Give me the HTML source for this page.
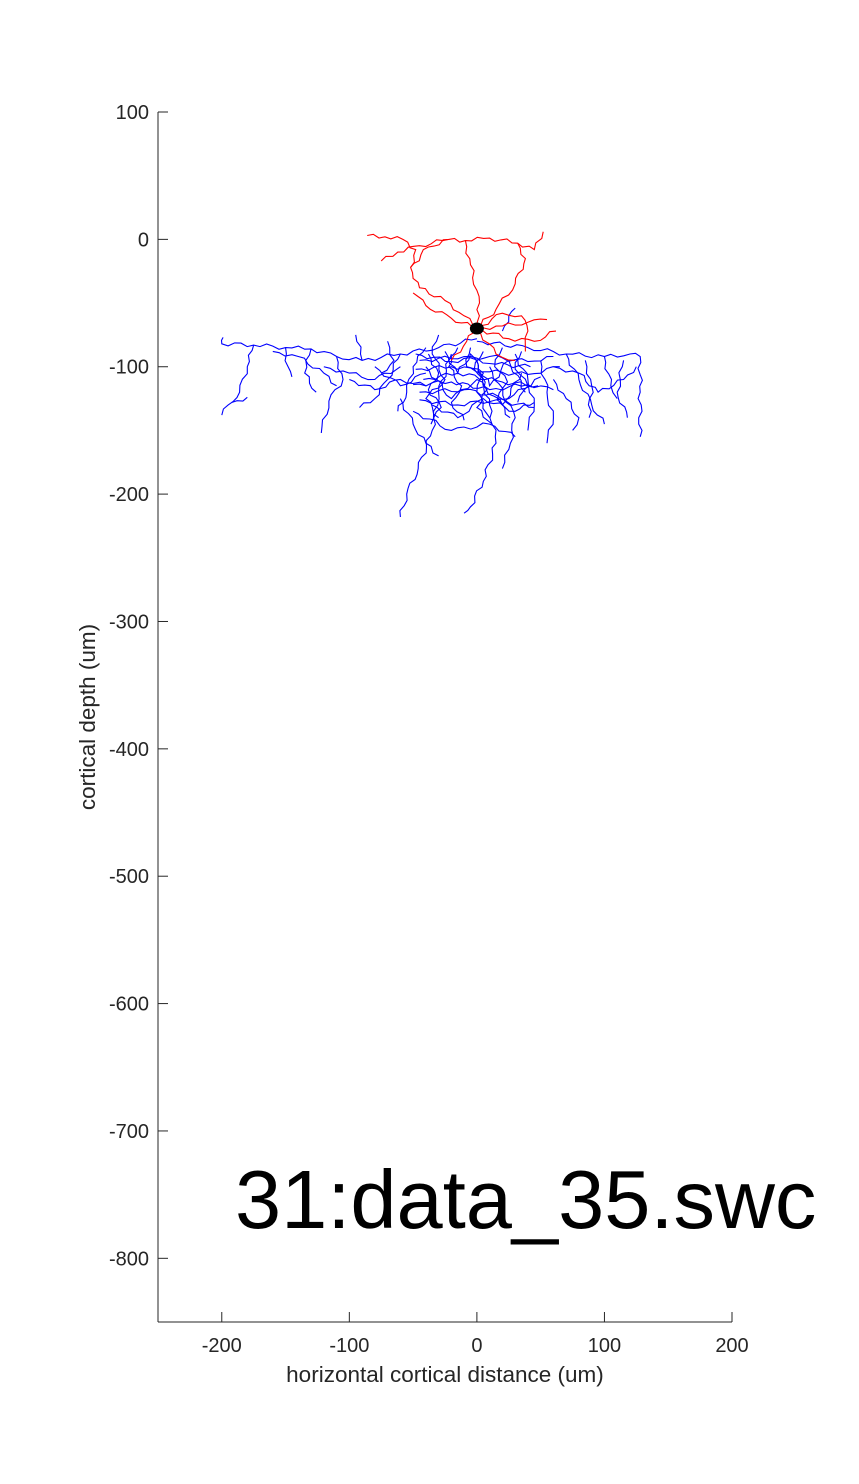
<!DOCTYPE html>
<html><head><meta charset="utf-8"><style>
body{margin:0;background:#fff;}
svg{display:block;font-family:"Liberation Sans",Arial,sans-serif;}
</style></head><body>
<svg id="chart" width="859" height="1484" viewBox="0 0 859 1484">
<rect width="859" height="1484" fill="#fff"/>
<g id="axes"></g>
<g id="marks"></g>
<text x="235" y="1228" font-size="83" fill="#000">31:data_35.swc</text>
<text x="445" y="1382" font-size="22.5" fill="#262626" text-anchor="middle">horizontal cortical distance (um)</text>
<text transform="translate(95,717) rotate(-90)" font-size="22.5" fill="#262626" text-anchor="middle">cortical depth (um)</text>
</svg>
<script>
const xTicks=[-200,-100,0,100,200];
const yTicks=[100,0,-100,-200,-300,-400,-500,-600,-700,-800];
const xDomain=[-250,200];
const yDomain=[-850,100];
const soma=[0,-70];
const apical=[
[[0,-70],[-10,-60],[-25,-48],[-45,-38],[-52,-22],[-48,-8],[-58,0],[-72,2],[-86,3]],
[[-52,-22],[-38,-6],[-22,0],[-9,-1],[10,1],[32,-3],[45,-8],[52,6]],
[[-9,-1],[-5,-20],[0,-40],[2,-60],[0,-70]],
[[32,-3],[38,-15],[30,-35],[15,-55],[0,-70]],
[[-22,0],[-45,-5],[-62,-10],[-75,-17]],
[[0,-70],[-20,-62],[-40,-52],[-50,-42]],
[[0,-70],[20,-68],[40,-65],[55,-63]],
[[0,-70],[25,-78],[45,-80],[62,-72]],
[[0,-70],[20,-58],[35,-60],[40,-72],[38,-88]],
[[0,-70],[-8,-80],[-20,-95]],
[[0,-70],[15,-90],[30,-95]]
];
const basal=[
[[0,-78],[-30,-85],[-60,-90],[-90,-95],[-110,-92],[-130,-86],[-150,-85],[-175,-83],[-200,-82],[-199,-77]],
[[-175,-83],[-180,-100],[-186,-120],[-195,-130],[-200,-138]],
[[-192,-128],[-180,-124]],
[[-150,-85],[-148,-100],[-145,-108]],
[[-130,-86],[-135,-105],[-126,-120]],
[[-110,-92],[-105,-110],[-116,-127],[-122,-152]],
[[-90,-95],[-95,-75]],
[[-60,-90],[-70,-110],[-80,-125],[-92,-132]],
[[-20,-90],[-30,-120],[-35,-150],[-46,-180],[-55,-200],[-60,-218]],
[[0,-95],[10,-130],[15,-160],[5,-190],[-5,-210],[-10,-215]],
[[10,-100],[30,-140],[25,-165],[20,-180]],
[[0,-80],[40,-85],[70,-90],[100,-92],[120,-90],[128,-92],[128,-120],[128,-155]],
[[70,-90],[80,-110],[90,-130],[100,-145]],
[[100,-92],[105,-115],[110,-125]],
[[30,-90],[40,-110],[45,-130],[40,-150]],
[[-40,-85],[-50,-100],[-55,-120],[-62,-135]],
[[20,-72],[25,-60],[30,-54]],
[[-30,-75],[-35,-90],[-25,-110],[-40,-125],[-30,-140]],
[[50,-95],[55,-120],[60,-140],[55,-160]],
[[-45,-95],[-10,-92],[15,-98],[42,-100]],
[[-42,-110],[-15,-105],[20,-112],[48,-115]],
[[-45,-120],[-10,-118],[25,-125],[50,-108]],
[[-40,-100],[-20,-125],[0,-110],[20,-130],[35,-105]],
[[-35,-130],[-15,-140],[5,-125],[30,-135],[45,-128]],
[[-25,-88],[-15,-105],[-5,-90],[10,-115],[25,-95],[38,-120]],
[[-80,-100],[-60,-115],[-40,-105]],
[[60,-100],[80,-105],[95,-120],[115,-110],[125,-100]],
[[85,-95],[90,-115],[88,-140]],
[[115,-95],[110,-120],[118,-140]],
[[-120,-100],[-100,-105],[-80,-110],[-60,-100]],
[[-70,-80],[-65,-95],[-75,-105]],
[[-5,-85],[-8,-100],[5,-105],[0,-120],[10,-140]],
[[-38,-90],[-30,-105],[-38,-118],[-28,-132],[-36,-145]],
[[-15,-85],[-22,-100],[-12,-115],[-20,-128],[-10,-142]],
[[5,-88],[-2,-102],[8,-118],[0,-132],[12,-145]],
[[20,-85],[14,-100],[24,-112],[16,-126],[26,-140]],
[[35,-88],[30,-102],[40,-115],[32,-128]],
[[-48,-90],[-20,-96],[10,-92],[40,-96],[60,-92]],
[[-48,-102],[-20,-100],[10,-104],[40,-106],[65,-100]],
[[-50,-114],[-20,-112],[10,-118],[40,-114],[60,-118]],
[[-45,-126],[-15,-130],[15,-126],[45,-132]],
[[-50,-135],[-20,-150],[10,-145],[30,-155]],
[[-100,-110],[-80,-118],[-60,-110],[-40,-115]],
[[-60,-125],[-50,-145],[-40,-160],[-30,-170]],
[[-160,-88],[-140,-92],[-120,-105],[-110,-115]],
[[60,-110],[70,-125],[80,-140],[75,-150]]
];
const W=859,H=1484,L=158,R=732,T=112,B=1322;
const sx=v=>L+(v-xDomain[0])/(xDomain[1]-xDomain[0])*(R-L);
const sy=v=>B-(v-yDomain[0])/(yDomain[1]-yDomain[0])*(B-T);
const NS='http://www.w3.org/2000/svg';
const axes=document.getElementById('axes'),marks=document.getElementById('marks');
function mk(t,a,p){const e=document.createElementNS(NS,t);for(const k in a)e.setAttribute(k,a[k]);p.appendChild(e);return e;}
const ya=mk('line',{x1:L,y1:T,x2:L,y2:B,stroke:'#262626','stroke-width':1},axes);


const xa=mk('line',{x1:L,y1:B,x2:R,y2:B,stroke:'#262626','stroke-width':1},axes);


xTicks.forEach(v=>{const x=sx(v);
const t=mk('line',{x1:x,y1:B,x2:x,y2:B-10,stroke:'#262626'},axes);


const l=mk('text',{x:x,y:B+30,'font-size':20,fill:'#262626','text-anchor':'middle'},axes);l.textContent=v;

});
yTicks.forEach(v=>{const y=sy(v);
const t=mk('line',{x1:L,y1:y,x2:L+10,y2:y,stroke:'#262626'},axes);


const l=mk('text',{x:L-9,y:y+7,'font-size':20,fill:'#262626','text-anchor':'end'},axes);l.textContent=v;

});
function path(pts){let d='',k=0;
for(let i=0;i<pts.length;i++){const X=sx(pts[i][0]),Y=sy(pts[i][1]);
if(i===0){d+='M'+X+' '+Y;continue;}
const X0=sx(pts[i-1][0]),Y0=sy(pts[i-1][1]);const dx=X-X0,dy=Y-Y0,len=Math.hypot(dx,dy)||1;
const n=Math.max(2,Math.round(len/6));
for(let j=1;j<=n;j++){const f=j/n;const w=(j===n)?0:2.2*Math.sin(k++*1.7);
d+=' L'+(X0+dx*f-dy/len*w).toFixed(1)+' '+(Y0+dy*f+dx/len*w).toFixed(1);}}
return d;}
basal.forEach(b=>{const p=mk('path',{d:path(b),fill:'none',stroke:'#0000ff','stroke-width':1.1},marks);

});
apical.forEach(b=>{const p=mk('path',{d:path(b),fill:'none',stroke:'#ff0000','stroke-width':1.1},marks);

});
const s=mk('ellipse',{cx:sx(soma[0]),cy:sy(soma[1]),rx:7,ry:6,fill:'#000'},marks);


</script>
</body></html>
